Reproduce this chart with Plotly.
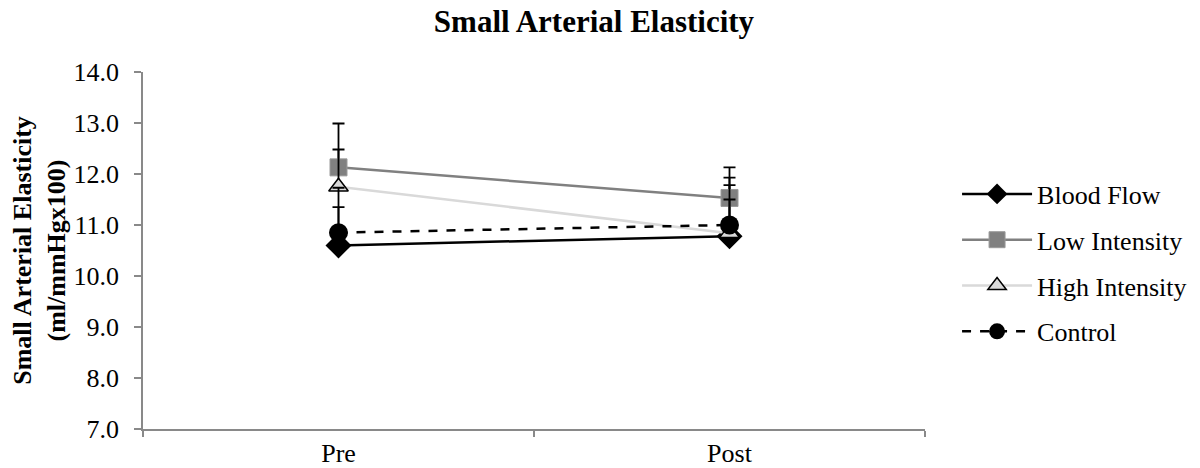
import plotly.graph_objects as go

categories = ["Pre", "Post"]
series_names = ["Blood Flow", "Low Intensity", "High Intensity", "Control"]
blood_flow = [10.60, 10.78]
low_intensity = [12.13, 11.53]
high_intensity = [11.75, 10.84]
control = [10.85, 11.00]
err_blood_flow = [0.75, 1.15]
err_low_intensity = [0.86, 0.60]
err_high_intensity = [0.73, 0.94]
err_control = [0.88, 0.50]
y_ticks = [7.0, 8.0, 9.0, 10.0, 11.0, 12.0, 13.0, 14.0]

FONT = "Liberation Serif, Times New Roman, serif"

styles = [
    dict(line=dict(color="#000000", width=2.5),
         marker=dict(symbol="diamond", size=20, color="#000000")),
    dict(line=dict(color="#808080", width=2.5),
         marker=dict(symbol="square", size=17, color="#808080",
                     line=dict(color="#9a9a9a", width=1))),
    dict(line=dict(color="#d9d9d9", width=2.5),
         marker=dict(symbol="triangle-up", size=17, color="#d9d9d9",
                     line=dict(color="#000000", width=1.5))),
    dict(line=dict(color="#000000", width=2.5, dash="dash"),
         marker=dict(symbol="circle", size=19, color="#000000")),
]
values = [blood_flow, low_intensity, high_intensity, control]
errors = [err_blood_flow, err_low_intensity, err_high_intensity, err_control]

fig = go.Figure()
for name, vals, errs, st in zip(series_names, values, errors, styles):
    fig.add_trace(go.Scatter(
        x=categories, y=vals, name=name, mode="lines+markers",
        legendgroup=name,
        line=st["line"], marker=st["marker"],
        error_y=dict(type="data", array=errs, symmetric=False,
                     arrayminus=[0, 0], color="#000000",
                     thickness=1.8, width=6),
    ))

# page body has an 8px margin, so the figure is sized to fit inside the window
fig.update_layout(
    width=1192, height=460,
    paper_bgcolor="white", plot_bgcolor="white",
    margin=dict(l=135, r=275, t=64, b=39, autoexpand=False),
    font=dict(family=FONT, size=26, color="#000000"),
    title=dict(text="<b>Small Arterial Elasticity</b>", x=0.4916, xanchor="center",
               y=0.995, yanchor="top",
               font=dict(family=FONT, size=31, color="#000000")),
    showlegend=True,
    legend=dict(x=1.041, xanchor="left", y=0.465, yanchor="middle",
                font=dict(family=FONT, size=26, color="#000000"),
                tracegroupgap=9, traceorder="grouped", itemwidth=70,
                bgcolor="rgba(0,0,0,0)"),
)
fig.update_xaxes(
    type="category", range=[-0.5, 1.5], tickson="boundaries",
    automargin=False,
    showline=True, linecolor="#898989", linewidth=1.5,
    ticks="outside", ticklen=6, tickcolor="#898989", tickwidth=1.5,
    showgrid=False, zeroline=False,
    tickfont=dict(family=FONT, size=26, color="#000000"),
)
fig.update_yaxes(
    range=[7.0, 14.0], tickvals=y_ticks, tickformat=".1f",
    automargin=False,
    showline=True, linecolor="#898989", linewidth=1.5,
    ticks="outside", ticklen=7, tickcolor="#898989", tickwidth=1.5,
    showgrid=False, zeroline=False,
    tickfont=dict(family=FONT, size=26, color="#000000"),
    ticklabelstandoff=10,
    title=dict(text="<b>Small Arterial Elasticity<br>(ml/mmHgx100)</b>",
               font=dict(family=FONT, size=26, color="#000000"), standoff=3),
)

fig.write_html("out.html")
